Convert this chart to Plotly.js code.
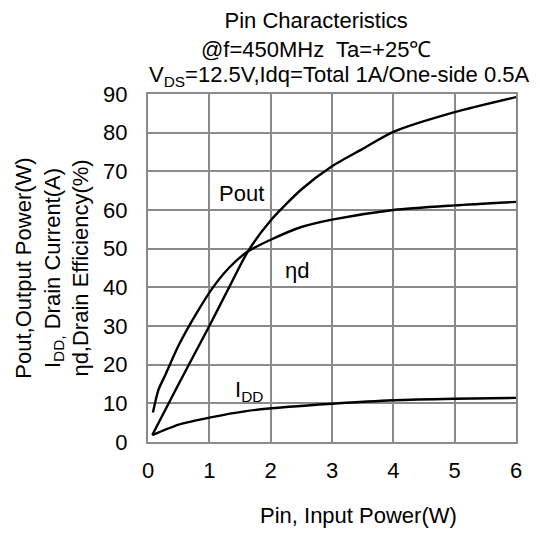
<!DOCTYPE html>
<html>
<head>
<meta charset="utf-8">
<script src="https://cdn.plot.ly/plotly-3.0.1.min.js"></script>
<style>html,body{margin:0;padding:0;background:#fff;}#chart{width:540px;height:536px;}</style>
</head>
<body>
<div id="chart"></div>
<script>
// Data
var poutPin = [0.07, 0.5, 1.0, 1.3, 1.63, 2.0, 2.5, 3.0, 3.5, 4.0, 5.0, 6.0];
var poutW   = [1.8, 15.0, 30.0, 39.3, 49.3, 57.3, 65.3, 71.3, 75.8, 80.2, 85.3, 89.2];

var effPin  = [0.08, 0.17, 0.29, 0.5, 0.78, 1.06, 1.33, 1.63, 2.0, 2.5, 3.0, 4.0, 5.0, 6.0];
var effPct  = [7.6, 13.5, 17.6, 25.0, 33.0, 40.0, 45.2, 49.3, 52.3, 55.6, 57.5, 60.0, 61.2, 62.1];

var iddPin  = [0.07, 0.5, 1.0, 1.6, 2.3, 3.0, 4.0, 5.0, 6.0];
var iddA    = [1.8, 4.5, 6.3, 8.0, 9.1, 9.9, 10.8, 11.2, 11.4];

var xTicks = [0, 1, 2, 3, 4, 5, 6];
var yTicks = [0, 10, 20, 30, 40, 50, 60, 70, 80, 90];

var FONT = 'Arial, "Liberation Sans", sans-serif';
var FS = 22;
var lineStyle = {color: '#000', width: 2.4, shape: 'spline', smoothing: 0.7};

var traces = [
  {x: poutPin, y: poutW, mode: 'lines', name: 'Pout', line: lineStyle, hoverinfo: 'x+y'},
  {x: effPin, y: effPct, mode: 'lines', name: 'ηd', line: lineStyle, hoverinfo: 'x+y'},
  {x: iddPin, y: iddA, mode: 'lines', name: 'IDD', line: lineStyle, hoverinfo: 'x+y'}
];

var layout = {
  width: 540, height: 536,
  margin: {l: 148, r: 24, t: 94, b: 94},
  paper_bgcolor: '#fff', plot_bgcolor: '#fff',
  showlegend: false,
  font: {family: FONT, size: FS, color: '#000'},
  title: {
    text: 'Pin Characteristics<br>@f=450MHz  Ta=+25℃',
    font: {family: FONT, size: FS, color: '#000'},
    x: 0.457, xref: 'paper', xanchor: 'center',
    y: 1, yref: 'container', yanchor: 'top', pad: {t: 28}
  },
  xaxis: {
    range: [0, 6], tickvals: xTicks, ticktext: xTicks.map(String),
    showgrid: true, gridcolor: '#8a8a8a', gridwidth: 2,
    showline: true, linecolor: '#8a8a8a', linewidth: 2, mirror: true,
    zeroline: false, ticks: '', ticklabelstandoff: 8,
    tickfont: {family: FONT, size: FS, color: '#000'},
    fixedrange: true
  },
  yaxis: {
    range: [0, 90], tickvals: yTicks, ticktext: yTicks.map(String),
    showgrid: true, gridcolor: '#8a8a8a', gridwidth: 2,
    showline: true, linecolor: '#8a8a8a', linewidth: 2, mirror: true,
    zeroline: false, ticks: '', ticklabelstandoff: 14,
    tickfont: {family: FONT, size: FS, color: '#000'},
    title: {
      text: 'Pout,Output Power(W)<br>I<sub>DD,</sub> Drain Current(A)<br>ηd,Drain Efficiency(%)',
      font: {family: FONT, size: FS, color: '#000'},
      standoff: 8
    },
    fixedrange: true
  },
  annotations: [
    {text: 'V<sub>DS</sub>=12.5V,Idq=Total 1A/One-side 0.5A', xref: 'paper', yref: 'paper',
     x: 0.52, y: 1.0, xanchor: 'center', yanchor: 'bottom', yshift: 2, showarrow: false,
     font: {family: FONT, size: FS, color: '#000'}},
    {text: 'Pout', x: 1.52, y: 64.3, xref: 'x', yref: 'y', showarrow: false,
     font: {family: FONT, size: FS, color: '#000'}},
    {text: 'ηd', x: 2.43, y: 44.4, xref: 'x', yref: 'y', showarrow: false,
     font: {family: FONT, size: FS, color: '#000'}},
    {text: 'I<sub>DD</sub>', x: 1.64, y: 13.2, xref: 'x', yref: 'y', showarrow: false,
     font: {family: FONT, size: FS, color: '#000'}},
    {text: 'Pin, Input Power(W)', xref: 'paper', yref: 'paper', x: 0.5707, y: 0,
     xanchor: 'center', yanchor: 'middle', yshift: -73, showarrow: false,
     font: {family: FONT, size: FS, color: '#000'}}
  ]
};

Plotly.newPlot('chart', traces, layout, {displayModeBar: false, staticPlot: true});
</script>
</body>
</html>
